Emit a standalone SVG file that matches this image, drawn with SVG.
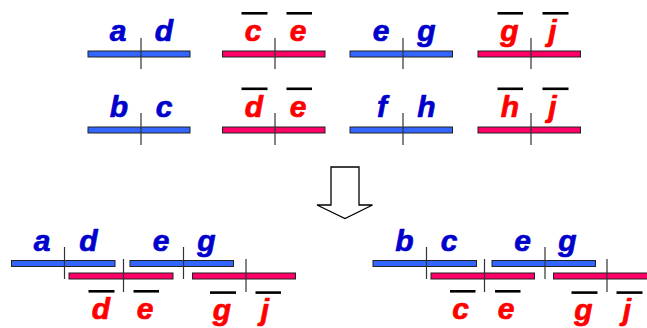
<svg xmlns="http://www.w3.org/2000/svg" width="647" height="328" viewBox="0 0 647 328">
  <style>
    .bar { stroke: #222; stroke-width: 1; }
    .pos { fill: #3366FF; }
    .neg { fill: #FF0066; }
    .tick { stroke: #333; stroke-width: 1.2; fill: none; }
    .ob { fill: #000; }
    text { font-family: "Liberation Sans", Arial, sans-serif; font-weight: bold; font-style: italic; font-size: 30px; text-anchor: middle; stroke-width: 0.7; stroke-linejoin: round; }
    .tb { fill: #0000CC; stroke: #0000CC; }
    .tr { fill: #FF0000; stroke: #FF0000; }
    .arrow { fill: #fff; stroke: #000; stroke-width: 1.3; }
  </style>

  <!-- top grid: four columns, two rows -->
  <g id="n-ad">
    <rect class="bar pos" x="88" y="51" width="102" height="6"/>
    <line class="tick" x1="141" y1="38" x2="141" y2="69"/>
    <text class="tb" x="118" y="41">a</text>
    <text class="tb" x="164" y="41">d</text>
  </g>
  <g id="n-ce">
    <rect class="bar neg" x="222.5" y="51" width="102.5" height="6"/>
    <line class="tick" x1="275" y1="38" x2="275" y2="69"/>
    <rect class="ob" x="241.5" y="12" width="26" height="2.6"/>
    <rect class="ob" x="286.5" y="12" width="25.5" height="2.6"/>
    <text class="tr" x="253" y="41">c</text>
    <text class="tr" x="298" y="41">e</text>
  </g>
  <g id="n-eg">
    <rect class="bar pos" x="350" y="51" width="102.5" height="6"/>
    <line class="tick" x1="403" y1="38" x2="403" y2="69"/>
    <text class="tb" x="381" y="41">e</text>
    <text class="tb" x="426.5" y="41">g</text>
  </g>
  <g id="n-gj">
    <rect class="bar neg" x="478" y="51" width="102.5" height="6"/>
    <line class="tick" x1="531" y1="38" x2="531" y2="69"/>
    <rect class="ob" x="497.5" y="12" width="25.5" height="2.6"/>
    <rect class="ob" x="542.5" y="12" width="26" height="2.6"/>
    <text class="tr" x="509.5" y="41">g</text>
    <text class="tr" x="552.5" y="41">j</text>
  </g>

  <g id="n-bc">
    <rect class="bar pos" x="88" y="127" width="102" height="6"/>
    <line class="tick" x1="141" y1="113" x2="141" y2="145"/>
    <text class="tb" x="119" y="116.5">b</text>
    <text class="tb" x="164" y="116.5">c</text>
  </g>
  <g id="n-de">
    <rect class="bar neg" x="222.5" y="127" width="102.5" height="6"/>
    <line class="tick" x1="275" y1="113" x2="275" y2="145"/>
    <rect class="ob" x="241.5" y="87.5" width="26" height="2.6"/>
    <rect class="ob" x="286.5" y="87.5" width="25.5" height="2.6"/>
    <text class="tr" x="254" y="116.5">d</text>
    <text class="tr" x="298" y="116.5">e</text>
  </g>
  <g id="n-fh">
    <rect class="bar pos" x="350" y="127" width="102.5" height="6"/>
    <line class="tick" x1="403" y1="113" x2="403" y2="145"/>
    <text class="tb" x="382" y="116.5">f</text>
    <text class="tb" x="426.5" y="116.5">h</text>
  </g>
  <g id="n-hj">
    <rect class="bar neg" x="478" y="127" width="102.5" height="6"/>
    <line class="tick" x1="531" y1="113" x2="531" y2="145"/>
    <rect class="ob" x="497.5" y="87.5" width="25.5" height="2.6"/>
    <rect class="ob" x="542.5" y="87.5" width="26" height="2.6"/>
    <text class="tr" x="510" y="116.5">h</text>
    <text class="tr" x="552.5" y="116.5">j</text>
  </g>

  <!-- block arrow pointing down -->
  <g id="n-arrow">
    <path class="arrow" d="M331 167 L359 167 L359 205 L372.5 205 L345 218.5 L317 205 L331 205 Z"/>
  </g>

  <!-- bottom left chain: a d | d e | e g | g j -->
  <g id="n-chain-left">
    <rect class="bar pos" x="11.5" y="260.5" width="103.5" height="6"/>
    <rect class="bar neg" x="69" y="273" width="104" height="6"/>
    <rect class="bar pos" x="130" y="260.5" width="103.5" height="6"/>
    <rect class="bar neg" x="192.5" y="273" width="103" height="6"/>
    <line class="tick" x1="64.5" y1="247" x2="64.5" y2="279"/>
    <line class="tick" x1="123.5" y1="259" x2="123.5" y2="292"/>
    <line class="tick" x1="183.5" y1="247" x2="183.5" y2="279"/>
    <line class="tick" x1="246" y1="259" x2="246" y2="292"/>
    <text class="tb" x="42" y="251">a</text>
    <text class="tb" x="88.5" y="251">d</text>
    <text class="tb" x="161" y="251">e</text>
    <text class="tb" x="206.5" y="251">g</text>
    <rect class="ob" x="88.5" y="290" width="26" height="2.6"/>
    <rect class="ob" x="133.5" y="290" width="25.5" height="2.6"/>
    <rect class="ob" x="210" y="291.3" width="26" height="2.6"/>
    <rect class="ob" x="255.5" y="291.3" width="25.5" height="2.6"/>
    <text class="tr" x="101" y="319">d</text>
    <text class="tr" x="145" y="319">e</text>
    <text class="tr" x="222" y="320">g</text>
    <text class="tr" x="265" y="320">j</text>
  </g>

  <!-- bottom right chain: b c | c e | e g | g j -->
  <g id="n-chain-right">
    <rect class="bar pos" x="373" y="260.5" width="103.5" height="6"/>
    <rect class="bar neg" x="431" y="273" width="103.5" height="6"/>
    <rect class="bar pos" x="492" y="260.5" width="103.5" height="6"/>
    <rect class="bar neg" x="553.5" y="273" width="103" height="6"/>
    <line class="tick" x1="426.5" y1="247" x2="426.5" y2="279"/>
    <line class="tick" x1="484.5" y1="259" x2="484.5" y2="292"/>
    <line class="tick" x1="545" y1="247" x2="545" y2="279"/>
    <line class="tick" x1="607" y1="259" x2="607" y2="292"/>
    <text class="tb" x="404.5" y="251">b</text>
    <text class="tb" x="449" y="251">c</text>
    <text class="tb" x="522.5" y="251">e</text>
    <text class="tb" x="567.5" y="251">g</text>
    <rect class="ob" x="450" y="290" width="25.5" height="2.6"/>
    <rect class="ob" x="495" y="290" width="25.5" height="2.6"/>
    <rect class="ob" x="571.5" y="291.3" width="26" height="2.6"/>
    <rect class="ob" x="616.5" y="291.3" width="26" height="2.6"/>
    <text class="tr" x="460.5" y="319">c</text>
    <text class="tr" x="506" y="319">e</text>
    <text class="tr" x="583.5" y="320">g</text>
    <text class="tr" x="627" y="320">j</text>
  </g>

  <g id="connectors"></g>
</svg>
